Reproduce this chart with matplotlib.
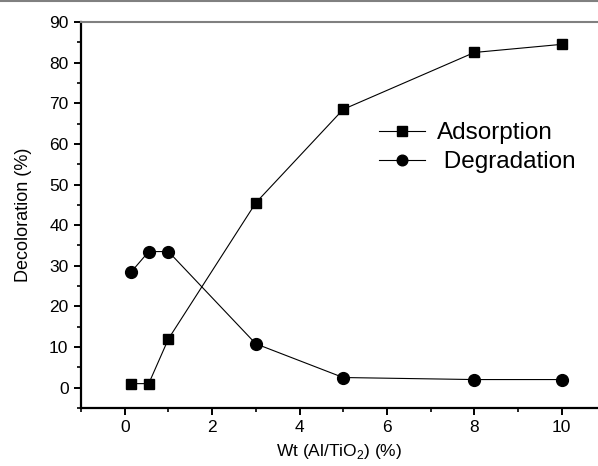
import matplotlib
matplotlib.use("Agg")
import matplotlib.pyplot as plt
from matplotlib.ticker import MultipleLocator
from matplotlib.lines import Line2D

plt.rcParams.update({
    "font.family": ["Liberation Sans", "DejaVu Sans"],
    "mathtext.fontset": "custom",
    "mathtext.rm": "Liberation Sans",
})

# data
wt = [0.15, 0.55, 1.0, 3.0, 5.0, 8.0, 10.0]
adsorption = [1.0, 1.0, 12.0, 45.5, 68.5, 82.5, 84.5]
degradation = [28.5, 33.5, 33.5, 10.8, 2.5, 2.0, 2.0]

W, H = 598, 466
fig = plt.figure(figsize=(W / 100, H / 100), dpi=100)
ax = fig.add_axes([81 / W, (H - 408) / H, 517 / W, 386 / H])

ax.plot(wt, adsorption, color="black", lw=0.8, marker="s", ms=7.5,
        mfc="black", mec="black", label="Adsorption")
ax.plot(wt, degradation, color="black", lw=0.8, marker="o", ms=8.5,
        mfc="black", mec="black", label=" Degradation")

ax.set_xlim(-1, 10.83)
ax.set_ylim(-5, 90)
ax.xaxis.set_major_locator(MultipleLocator(2))
ax.xaxis.set_minor_locator(MultipleLocator(1))
ax.yaxis.set_major_locator(MultipleLocator(10))
ax.yaxis.set_minor_locator(MultipleLocator(5))
ax.tick_params(which="major", direction="out", length=5, width=1.4,
               labelsize=12.5, pad=4)
ax.tick_params(which="minor", direction="out", length=3, width=1.2)

ax.spines["right"].set_visible(False)
ax.spines["top"].set_color("#808080")
ax.spines["top"].set_linewidth(1.5)
for s in ("left", "bottom"):
    ax.spines[s].set_linewidth(1.6)

ax.set_xlabel(r"Wt (Al/TiO$_2$) (%)", fontsize=12.5, labelpad=5)
ax.set_ylabel("Decoloration (%)", fontsize=13, labelpad=12)

ax.legend(frameon=False, fontsize=17.5, loc="center left",
          bbox_to_anchor=(0.576, 0.674), handlelength=1.9, handletextpad=0.5,
          labelspacing=0.3, borderaxespad=0, borderpad=0, markerscale=0.9)

# thin grey rule along the very top of the image
fig.add_artist(Line2D([0, 1], [1 - 0.5 / H, 1 - 0.5 / H], color="#808080", lw=1.5,
                      transform=fig.transFigure))

fig.savefig("out.png", dpi=100)
